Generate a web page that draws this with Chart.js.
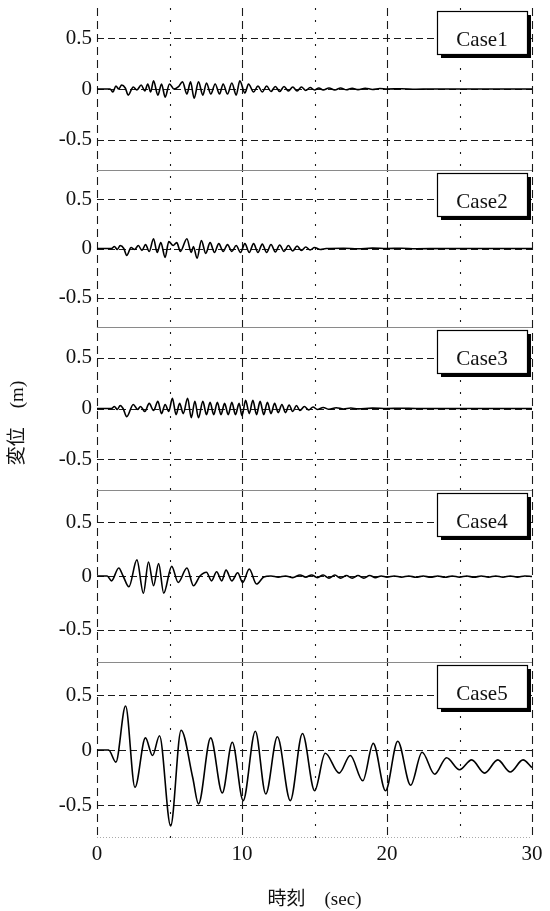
<!DOCTYPE html>
<html>
<head>
<meta charset="utf-8">
<script src="https://cdn.jsdelivr.net/npm/chart.js@4.4.1/dist/chart.umd.min.js"></script>
<style>
  html, body { margin: 0; padding: 0; background: #fff; }
  #wrap { width: 550px; height: 911px; }
</style>
</head>
<body>
<div id="wrap"><canvas id="dispChart"></canvas></div>
<script>
// panel labels and axis ticks
const caseNames = ['Case1', 'Case2', 'Case3', 'Case4', 'Case5'];
const yTicks = [-0.5, 0, 0.5];
const xTicks = [0, 10, 20, 30];
const xMajorGrid = [0, 10, 20, 30];
const xMinorGrid = [5, 15, 25];

// [time (sec), displacement (m)]
const case1 = [[0,0],[0.9,0],[1.1,-0.03],[1.3,0.03],[1.5,0.0],[1.7,0.04],[1.95,0.01],[2.15,-0.06],[2.5,0.02],[2.75,-0.01],
  [3.05,0.04],[3.3,-0.02],[3.5,0.05],[3.7,-0.03],[3.9,0.08],[4.2,-0.06],[4.45,0.05],[4.7,-0.08],[5.0,0.05],[5.3,0.0],
  [5.6,0.02],[5.9,0.07],[6.2,-0.05],[6.45,0.07],[6.7,-0.09],[7.0,0.07],[7.3,-0.06],[7.55,0.06],[7.85,-0.05],[8.15,0.05],
  [8.45,-0.05],[8.7,0.05],[9.0,-0.05],[9.3,0.06],[9.6,-0.06],[9.85,0.08],[10.2,-0.04],[10.45,0.05],[10.8,-0.03],[11.1,0.03],
  [11.4,-0.03],[11.7,0.03],[12.0,-0.025],[12.3,0.025],[12.6,-0.025],[12.9,0.025],[13.2,-0.02],[13.5,0.02],[13.8,-0.02],[14.1,0.02],
  [14.4,-0.015],[14.7,0.015],[15.0,-0.01],[15.3,0.01],[15.6,-0.01],[16.0,0.01],[16.4,-0.01],[16.8,0.01],[17.2,-0.008],[17.6,0.008],
  [18.0,-0.006],[18.5,0.008],[19.0,-0.005],[19.5,0.005],[20,0],[21,0.003],[22,-0.003],[23,0],[30,0]];

const case2 = [[0,0],[1.0,0],[1.2,0.02],[1.4,-0.01],[1.6,0.03],[1.85,0.0],[2.05,-0.07],[2.35,0.01],[2.6,-0.01],[2.85,0.03],
  [3.1,-0.02],[3.35,0.04],[3.6,-0.03],[3.9,0.1],[4.15,-0.04],[4.4,0.06],[4.7,-0.09],[4.95,0.07],[5.25,0.03],[5.5,0.06],
  [5.75,-0.03],[6.2,0.1],[6.5,-0.04],[6.65,0.02],[6.9,-0.1],[7.2,0.08],[7.5,-0.05],[7.8,0.06],[8.1,-0.04],[8.4,0.05],
  [8.7,-0.03],[9.0,0.04],[9.3,-0.03],[9.6,0.03],[9.9,-0.04],[10.2,0.05],[10.5,-0.04],[10.8,0.05],[11.1,-0.04],[11.4,0.045],
  [11.7,-0.04],[12.0,0.04],[12.3,-0.035],[12.6,0.035],[12.9,-0.03],[13.2,0.03],[13.5,-0.025],[13.8,0.025],[14.1,-0.02],[14.4,0.015],
  [14.7,-0.015],[15.0,0.01],[15.4,-0.01],[15.8,0],[17,0.003],[18,-0.003],[19,0.004],[20,0],[21,0.003],[22,-0.002],[24,0],[30,0]];

const case3 = [[0,0],[1.0,0],[1.2,0.02],[1.4,-0.01],[1.6,0.03],[1.8,0.0],[2.05,-0.08],[2.5,0.04],[2.8,-0.01],[3.0,0.02],
  [3.3,-0.03],[3.6,0.05],[3.9,-0.02],[4.2,0.07],[4.45,-0.05],[4.7,0.04],[4.95,-0.03],[5.2,0.1],[5.45,-0.06],[5.7,0.05],
  [5.95,-0.05],[6.25,0.1],[6.5,-0.09],[6.75,0.07],[7.0,-0.09],[7.3,0.07],[7.55,-0.06],[7.8,0.06],[8.05,-0.06],[8.3,0.06],
  [8.55,-0.06],[8.8,0.05],[9.05,-0.06],[9.3,0.06],[9.55,-0.06],[9.8,0.05],[10.0,-0.07],[10.25,0.08],[10.5,-0.05],[10.75,0.08],
  [11.0,-0.06],[11.25,0.07],[11.5,-0.06],[11.75,0.06],[12.0,-0.05],[12.25,0.05],[12.5,-0.04],[12.75,0.04],[13.0,-0.04],[13.25,0.035],
  [13.5,-0.03],[13.75,0.03],[14.0,-0.02],[14.3,0.02],[14.6,-0.015],[14.9,0.015],[15.2,-0.01],[15.6,0.01],[16.0,-0.008],[16.5,0.008],
  [17,-0.005],[17.5,0.005],[18,-0.004],[19,0.004],[20,0],[21,0.003],[22,0],[30,0]];

const case4 = [[0,0],[0.7,0],[1.0,-0.045],[1.5,0.075],[1.8,0.0],[2.2,-0.1],[2.75,0.15],[3.2,-0.16],[3.55,0.13],[3.9,-0.09],
  [4.25,0.115],[4.6,-0.16],[5.15,0.09],[5.6,-0.06],[6.2,0.075],[6.65,-0.09],[7.1,0.0],[7.55,0.035],[7.9,-0.045],[8.25,0.04],
  [8.6,-0.045],[8.9,0.055],[9.3,-0.045],[9.7,0.03],[10.05,-0.06],[10.5,0.065],[11.0,-0.075],[11.5,-0.01],[12.0,0.0],[12.5,-0.01],
  [13.0,0.0],[13.5,-0.015],[14.0,0.01],[14.4,-0.01],[14.8,0.01],[15.2,-0.015],[15.6,0.01],[16.0,-0.02],[16.4,0.01],[16.8,-0.02],
  [17.2,0.005],[17.6,-0.02],[18.0,0.005],[18.4,-0.02],[18.8,0.005],[19.2,-0.015],[19.6,0.0],[20.0,-0.01],[20.5,0.0],[21.0,-0.01],
  [21.5,0.0],[22.0,-0.012],[22.5,0.0],[23.0,-0.012],[23.5,0.0],[24.0,-0.012],[24.5,0.0],[25.0,-0.01],[25.5,0.0],[26.0,-0.012],
  [26.5,0.0],[27.0,-0.01],[27.5,0],[28,-0.01],[28.5,0],[29,-0.01],[29.5,0.0],[30,-0.005]];

const case5 = [[0,0],[0.8,0],[1.3,-0.11],[1.97,0.40],[2.62,-0.34],[3.34,0.11],[3.83,-0.05],[4.31,0.13],[5.08,-0.69],[5.80,0.18],
  [6.6,-0.25],[7.0,-0.49],[7.84,0.11],[8.64,-0.39],[9.33,0.07],[10.08,-0.46],[10.92,0.17],[11.64,-0.40],[12.44,0.12],[13.33,-0.46],
  [14.17,0.15],[15.01,-0.37],[15.74,-0.03],[16.70,-0.21],[17.47,-0.05],[18.33,-0.28],[19.05,0.06],[19.90,-0.37],[20.74,0.08],[21.63,-0.32],
  [22.42,-0.02],[23.29,-0.22],[24.11,-0.07],[25.0,-0.18],[25.84,-0.09],[26.73,-0.21],[27.64,-0.09],[28.5,-0.20],[29.38,-0.09],[30,-0.16]];

const caseSeries = [case1, case2, case3, case4, case5];

const serif = "'Liberation Serif', 'Times New Roman', serif";
const jpSerif = "'Liberation Serif', 'Noto Sans CJK JP', serif";
const panelIds = caseNames.map((n, i) => 'y' + (i + 1));

const scales = {
    x: {
        type: 'linear',
        min: 0,
        max: 30,
        afterBuildTicks: (ax) => { ax.ticks = xTicks.map(v => ({ value: v })); },
        afterFit: (ax) => { ax.height = 73; ax.paddingLeft = 0; ax.paddingRight = 0; },
        grid: { display: false, drawTicks: false },
        border: { display: false },
        ticks: { color: '#111', padding: 4, font: { family: serif, size: 21 } },
        title: {
            display: true,
            text: '時刻　(sec)',
            color: '#111',
            padding: { top: 0, bottom: 0 },
            font: { family: jpSerif, size: 19 }
        }
    }
};

// stacked left axes are laid out last-defined first, so add them bottom-up
const panelWeights = [162, 157, 163, 172, 176];
for (let i = panelIds.length - 1; i >= 0; i--) {
    scales[panelIds[i]] = {
        type: 'linear',
        position: 'left',
        stack: 'panels',
        stackWeight: panelWeights[i],
        min: -0.8,
        max: 0.8,
        afterBuildTicks: (ax) => { ax.ticks = yTicks.map(v => ({ value: v })); },
        afterFit: (ax) => { ax.width = 97; ax.paddingTop = 0; ax.paddingBottom = 0; },
        grid: { display: false, drawTicks: false },
        border: { display: false },
        ticks: {
            color: '#111',
            padding: 5,
            font: { family: serif, size: 21 },
            callback: (v) => String(v)
        }
    };
}

const line = (ctx, x1, y1, x2, y2) => {
    ctx.beginPath();
    ctx.moveTo(x1, y1);
    ctx.lineTo(x2, y2);
    ctx.stroke();
};

const panelPlugin = {
    id: 'panelPlugin',
    beforeDatasetsDraw(chart) {
        const { ctx, chartArea: ca } = chart;
        const xs = chart.scales.x;
        ctx.save();
        ctx.strokeStyle = '#1a1a1a';
        ctx.lineWidth = 1.1;
        ctx.setLineDash([7, 4]);
        panelIds.forEach(id => {
            const ys = chart.scales[id];
            yTicks.forEach(v => {
                const y = Math.round(ys.getPixelForValue(v)) + 0.5;
                line(ctx, ca.left, y, ca.right, y);
            });
        });
        ctx.setLineDash([8, 5]);
        xMajorGrid.forEach(v => {
            const x = Math.round(xs.getPixelForValue(v)) + 0.5;
            line(ctx, x, ca.top, x, ca.bottom);
        });
        ctx.setLineDash([2, 10]);
        xMinorGrid.forEach(v => {
            const x = Math.round(xs.getPixelForValue(v)) + 0.5;
            line(ctx, x, ca.top, x, ca.bottom);
        });
        // thin separators between panels
        ctx.setLineDash([]);
        ctx.strokeStyle = '#8a8a8a';
        ctx.lineWidth = 1;
        panelIds.slice(1).forEach(id => {
            const y = Math.round(chart.scales[id].top) + 0.5;
            line(ctx, ca.left, y, ca.right, y);
        });
        ctx.setLineDash([1, 2]);
        ctx.strokeStyle = '#aaa';
        line(ctx, ca.left, Math.round(ca.bottom) - 0.5, ca.right, Math.round(ca.bottom) - 0.5);
        ctx.restore();
    },
    afterDatasetsDraw(chart) {
        const { ctx, chartArea: ca } = chart;
        ctx.save();
        panelIds.forEach((id, i) => {
            const ys = chart.scales[id];
            const left = 437, top = Math.round(ys.top) + 3;
            const w = ca.right - 5 - left, h = 43;
            ctx.fillStyle = '#000';
            ctx.fillRect(left + 4, top + 4, w, h);
            ctx.fillStyle = '#fff';
            ctx.fillRect(left, top, w, h);
            ctx.strokeStyle = '#000';
            ctx.lineWidth = 1.2;
            ctx.strokeRect(left + 0.5, top + 0.5, w, h);
            ctx.fillStyle = '#111';
            ctx.font = '21px ' + serif;
            ctx.textAlign = 'center';
            ctx.textBaseline = 'middle';
            ctx.fillText(caseNames[i], left + w / 2, top + 29);
        });
        // shared y-axis title
        ctx.translate(18, (ca.top + ca.bottom) / 2);
        ctx.rotate(-Math.PI / 2);
        ctx.fillStyle = '#111';
        ctx.font = '19px ' + jpSerif;
        ctx.textAlign = 'center';
        ctx.textBaseline = 'middle';
        ctx.fillText('変位　(m)', 0, 0);
        ctx.restore();
    }
};

new Chart(document.getElementById('dispChart'), {
    type: 'line',
    data: {
        datasets: caseSeries.map((s, i) => ({
            label: caseNames[i],
            data: s.map(p => ({ x: p[0], y: p[1] })),
            yAxisID: panelIds[i],
            borderColor: '#000',
            borderWidth: 1.6,
            pointRadius: 0,
            cubicInterpolationMode: 'monotone',
            fill: false
        }))
    },
    options: {
        responsive: true,
        maintainAspectRatio: false,
        animation: false,
        layout: { padding: { top: 8, right: 18, left: 0, bottom: 0 } },
        plugins: { legend: { display: false }, tooltip: { enabled: false } },
        scales: scales
    },
    plugins: [panelPlugin]
});
</script>
</body>
</html>
